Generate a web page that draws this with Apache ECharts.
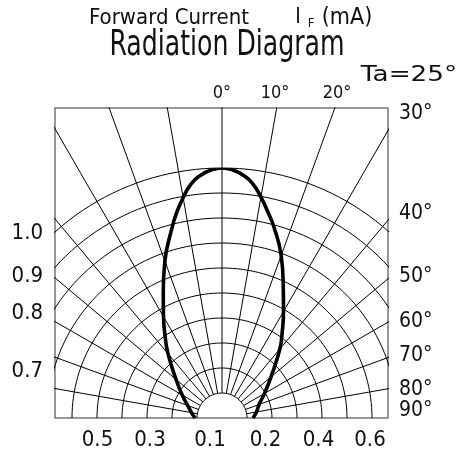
<!DOCTYPE html>
<html>
<head>
<meta charset="utf-8">
<script src="https://cdn.jsdelivr.net/npm/echarts@6/dist/echarts.min.js"></script>
<style>
    html, body { margin: 0; padding: 0; background: #fff; }
    #radiation-echarts { width: 468px; height: 455px; }
</style>
</head>
<body>
<div id="radiation-echarts"></div>
<script>
var curveAngle = [-90, -80, -70, -60, -50, -40, -35, -30, -25, -20, -15, -12.5, -10, -7.5, -5, -2.5, 0,
    2.5, 5, 7.5, 10, 12.5, 15, 20, 25, 30, 35, 40, 50, 60, 70, 80, 90];
var curveIntensity = [0.108, 0.124, 0.146, 0.184, 0.24, 0.336, 0.396, 0.468, 0.556, 0.668, 0.78, 0.84, 0.895, 0.945, 0.975, 0.993, 1.0,
    0.993, 0.975, 0.945, 0.897, 0.845, 0.796, 0.692, 0.58, 0.492, 0.42, 0.36, 0.256, 0.196, 0.158, 0.14, 0.124];

// tick labels
var bottomLabels = ['0.5', '0.3', '0.1', '0.2', '0.4', '0.6'];
var leftLabels = ['1.0', '0.9', '0.8', '0.7'];
var rightLabels = ['30°', '40°', '50°', '60°', '70°', '80°', '90°'];
var topLabels = ['0°', '10°', '20°'];

// grid: rings (relative intensity) and spokes (deg)
var ringLevels = [0.1, 0.2, 0.3, 0.4, 0.5, 0.6, 0.7, 0.8, 0.9, 1.0];
var spokeAngles = [-80, -70, -60, -50, -40, -30, -20, -10, 0, 10, 20, 30, 40, 50, 60, 70, 80];

// layout (pixels; the box is 1 unit = 1 px, origin at the centre of the bottom edge)
var R = 250;
var bottomPos = [-124.5, -72, -12, 43.5, 96.5, 148];
var leftPos = [185, 142, 105, 47];
var rightPos = [304, 204, 141, 96, 62, 28, 7];
var topPos = [0, 53, 115];

var narrow = "'Liberation Sans Narrow', 'DejaVu Sans Condensed', 'Liberation Sans', sans-serif";

(function () {
    var oChart = echarts.init(document.getElementById('radiation-echarts'));

    function pick(pos, labels) {
        return function (v) {
            var best = 0;
            for (var i = 0; i < pos.length; i++) {
                if (Math.abs(pos[i] - v) < Math.abs(pos[best] - v)) best = i;
            }
            return labels[best];
        };
    }

    function labelAxis(pos, labels, margin, size) {
        return {
            show: true,
            customValues: pos,
            formatter: pick(pos, labels),
            margin: margin,
            fontSize: size,
            lineHeight: size - 4,
            fontFamily: narrow,
            color: '#111',
            hideOverlap: false,
            showMinLabel: true,
            showMaxLabel: true
        };
    }

    function gridSeries() {
        var list = [];
        var d2r = Math.PI / 180;
        // rings
        for (var k = 0; k < ringLevels.length; k++) {
            var r = ringLevels[k] * R;
            var pts = [];
            for (var a = -90; a <= 90; a += 2) {
                pts.push([r * Math.sin(a * d2r), r * Math.cos(a * d2r)]);
            }
            list.push({
                type: 'line', xAxisIndex: 0, yAxisIndex: 0, data: pts,
                showSymbol: false, silent: true, clip: true,
                lineStyle: { color: '#000', width: 1 }
            });
        }
        // spokes start on the inner ring and get clipped by the box
        for (var j = 0; j < spokeAngles.length; j++) {
            var t = spokeAngles[j] * d2r;
            var r0 = ringLevels[0] * R;
            list.push({
                type: 'line', xAxisIndex: 0, yAxisIndex: 0,
                data: [[r0 * Math.sin(t), r0 * Math.cos(t)], [900 * Math.sin(t), 900 * Math.cos(t)]],
                showSymbol: false, silent: true, clip: true,
                lineStyle: { color: '#000', width: 1 }
            });
        }
        return list;
    }

    function myChart() {
        var curve = [];
        for (var i = 0; i < curveAngle.length; i++) {
            curve.push([curveIntensity[i], curveAngle[i]]);
        }
        var series = gridSeries();
        series.push({
            name: 'IF',
            type: 'line',
            coordinateSystem: 'polar',
            data: curve,
            smooth: 0.5,
            showSymbol: false,
            lineStyle: { color: '#000', width: 3.6 }
        });

        var option = {
            animation: false,
            backgroundColor: '#fff',
            grid: {
                left: 55, right: 80, top: 108, bottom: 37,
                show: true, borderColor: '#777', borderWidth: 1.5, backgroundColor: 'transparent'
            },
            xAxis: [{
                type: 'value', min: -167, max: 166, position: 'bottom',
                axisLine: { show: false }, axisTick: { show: false }, splitLine: { show: false },
                axisLabel: labelAxis(bottomPos, bottomLabels, 13, 22)
            }, {
                type: 'value', min: -167, max: 166, position: 'top',
                axisLine: { show: false }, axisTick: { show: false }, splitLine: { show: false },
                axisLabel: labelAxis(topPos, topLabels, 8, 18)
            }],
            yAxis: [{
                type: 'value', min: 0, max: 310, position: 'left',
                axisLine: { show: false }, axisTick: { show: false }, splitLine: { show: false },
                axisLabel: labelAxis(leftPos, leftLabels, 12, 22)
            }, {
                type: 'value', min: 0, max: 310, position: 'right',
                axisLine: { show: false }, axisTick: { show: false }, splitLine: { show: false },
                axisLabel: Object.assign(labelAxis(rightPos, rightLabels, 11, 21), { align: 'left' })
            }],
            polar: { center: [222, 418], radius: R },
            radiusAxis: { type: 'value', min: 0, max: 1, show: false },
            angleAxis: { type: 'value', min: -180, max: 180, startAngle: 270, clockwise: true, show: false },
            graphic: [
                { type: 'text', x: 169, y: 18, style: { text: 'Forward Current', fontSize: 22, fontFamily: narrow, fill: '#111', align: 'center', verticalAlign: 'middle' } },
                { type: 'text', x: 298, y: 18, style: { text: 'I', fontSize: 21, fontFamily: narrow, fill: '#111', align: 'center', verticalAlign: 'middle' } },
                { type: 'text', x: 311, y: 24, style: { text: 'F', fontSize: 13, fontFamily: narrow, fill: '#111', align: 'center', verticalAlign: 'middle' } },
                { type: 'text', x: 347, y: 18, style: { text: '(mA)', fontSize: 23, fontFamily: narrow, fill: '#111', align: 'center', verticalAlign: 'middle' } },
                { type: 'text', x: 227, y: 46, scaleY: 1.25, style: { text: 'Radiation Diagram', fontSize: 28, fontFamily: narrow, fill: '#111', align: 'center', verticalAlign: 'middle' } },
                { type: 'text', x: 409, y: 76, scaleX: 1.25, style: { text: 'Ta=25°', fontSize: 21, fontFamily: "'DejaVu Sans', sans-serif", fill: '#111', align: 'center', verticalAlign: 'middle' } }
            ],
            series: series
        };
        return option;
    }

    oChart.setOption(myChart());
})();
</script>
</body>
</html>
